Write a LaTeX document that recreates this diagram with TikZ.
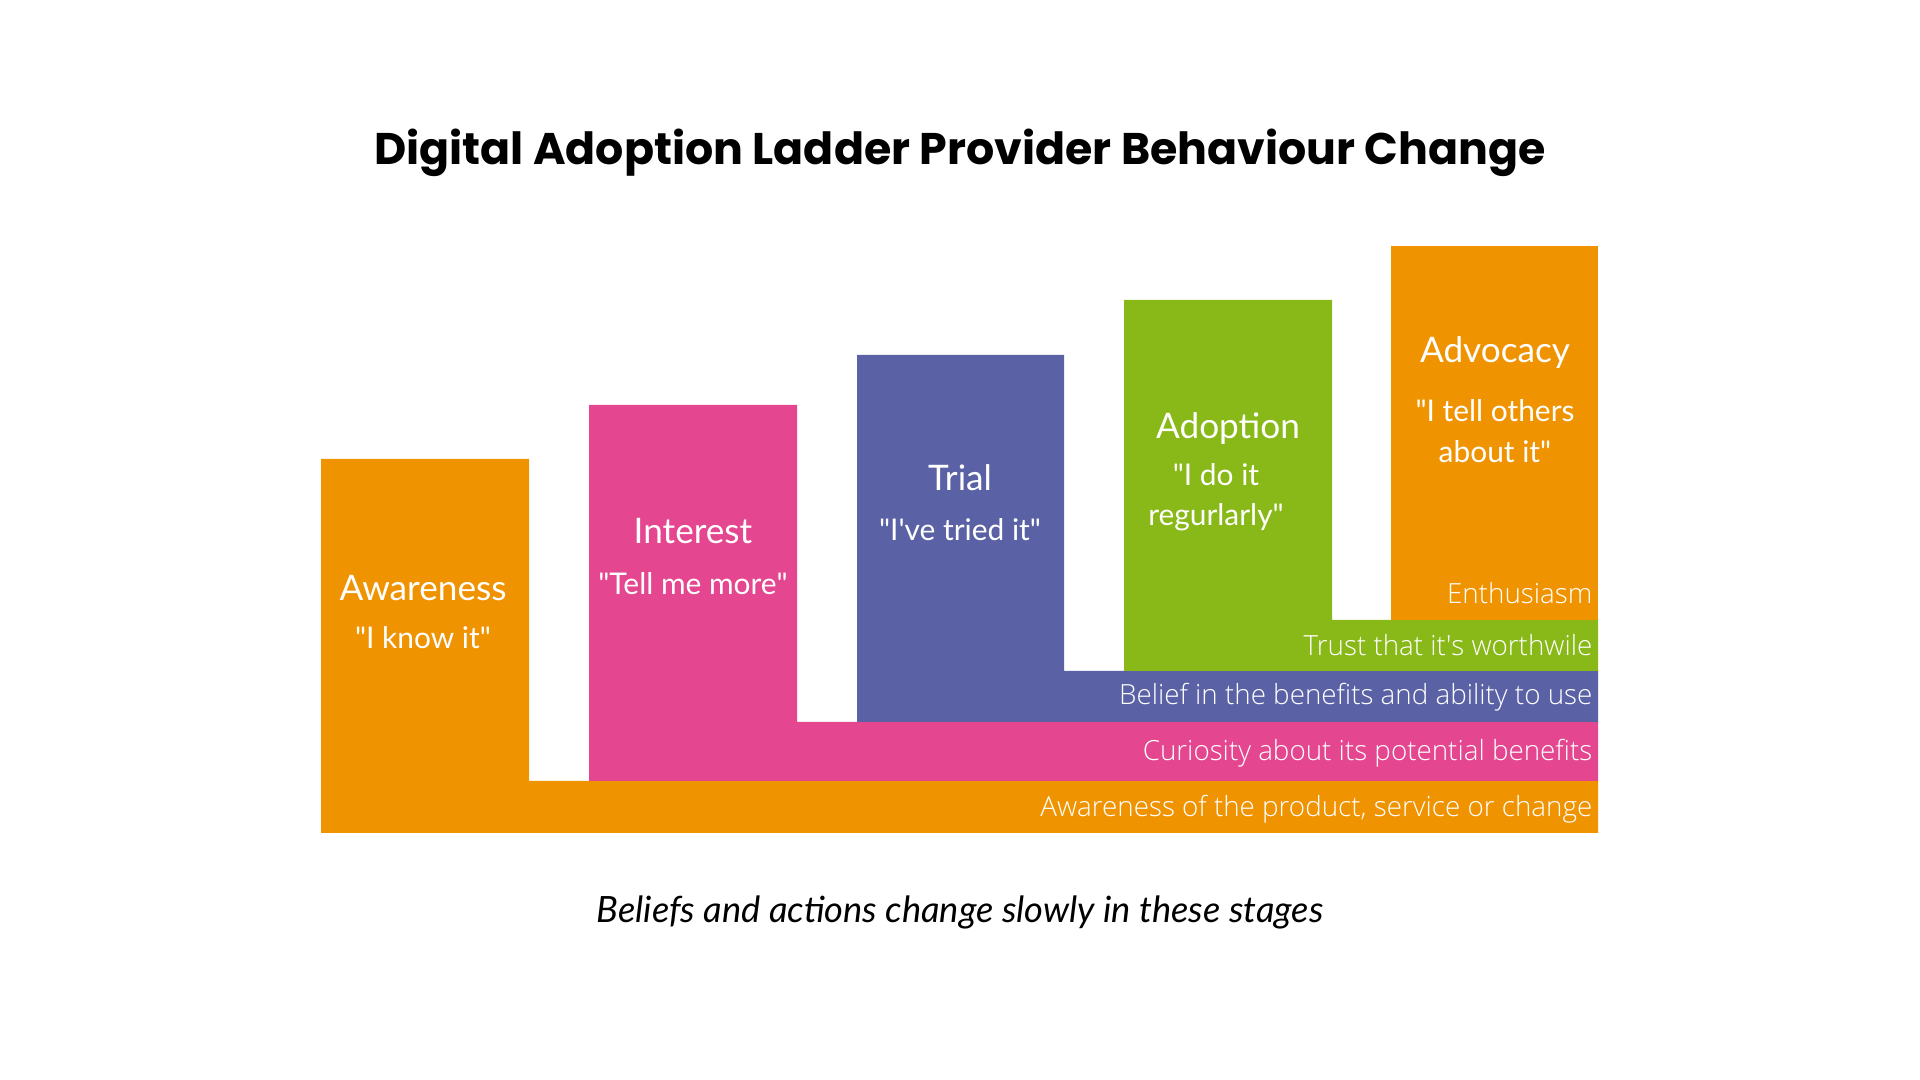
\documentclass[tikz,border=0pt]{standalone}
\usepackage{fontspec}
\setmainfont{Lato}
\newfontfamily\titlefont{Poppins}
\newfontfamily\barfont{Open Sans Light}
\usepackage{tikz}
\definecolor{ladorange}{RGB}{240,147,0}
\definecolor{ladpink}{RGB}{228,70,143}
\definecolor{ladblue}{RGB}{90,98,165}
\definecolor{ladgreen}{RGB}{136,185,24}
\newcommand{\dq}{\textquotedbl}
\newcommand{\sq}{\textquotesingle}

\begin{document}
\begin{tikzpicture}[x=0.01cm,y=-0.01cm,
  stage/.style={text=white,font=\fontsize{10}{12}\selectfont,anchor=center,inner sep=0pt},
  quote/.style={text=white,font=\fontsize{8.5}{11.5}\selectfont,anchor=center,align=center,inner sep=0pt},
  belief/.style={text=white,font=\barfont\fontsize{7.9}{9}\selectfont,anchor=east,inner sep=0pt}]
  \useasboundingbox[fill=white] (0,0) rectangle (1920,1080);
  % steps of the ladder, each one a column with its bar
  \fill[ladorange] (321,459) -- (529,459) -- (529,781) -- (1598,781) -- (1598,833) -- (321,833) -- cycle;
  \fill[ladpink] (589,405) -- (797,405) -- (797,722) -- (1598,722) -- (1598,781) -- (589,781) -- cycle;
  \fill[ladblue] (857,355) -- (1064,355) -- (1064,671) -- (1598,671) -- (1598,722) -- (857,722) -- cycle;
  \fill[ladgreen] (1124,300) -- (1332,300) -- (1332,620) -- (1598,620) -- (1598,671) -- (1124,671) -- cycle;
  \fill[ladorange] (1391,246) rectangle (1598,620);
  \node[font=\titlefont\bfseries\fontsize{12.6}{15}\selectfont] (title) at (960,153) {Digital Adoption Ladder Provider Behaviour Change};
  \node[stage] (aware) at (423,588) {Awareness};
  \node[quote] (awareq) at (423,638) {\dq I know it\dq};
  \node[stage] (inter) at (693,531) {Interest};
  \node[quote] (interq) at (693,584) {\dq Tell me more\dq};
  \node[stage] (trial) at (960,478) {Trial};
  \node[quote] (trialq) at (960,530) {\dq I\sq ve tried it\dq};
  \node[stage] (adopt) at (1228,429) {Adoption};
  \node[quote] (adoptq) at (1216,497) {\dq I do it\\regurlarly\dq};
  \node[stage] (advoc) at (1495,353) {Advocacy};
  \node[quote] (advocq) at (1495,431) {\dq I tell others\\about it\dq};
  \node[belief] (enth) at (1593,593) {Enthusiasm};
  \node[belief] (trust) at (1593,645) {Trust that it\sq s worthwile};
  \node[belief] (benef) at (1593,697) {Belief in the benefits and ability to use};
  \node[belief] (curio) at (1593,753) {Curiosity about its potential benefits};
  \node[belief] (known) at (1593,809) {Awareness of the product, service or change};
  \node[font=\itshape\fontsize{10.3}{12}\selectfont] (caption) at (960,912) {Beliefs and actions change slowly in these stages};
\end{tikzpicture}
\end{document}
